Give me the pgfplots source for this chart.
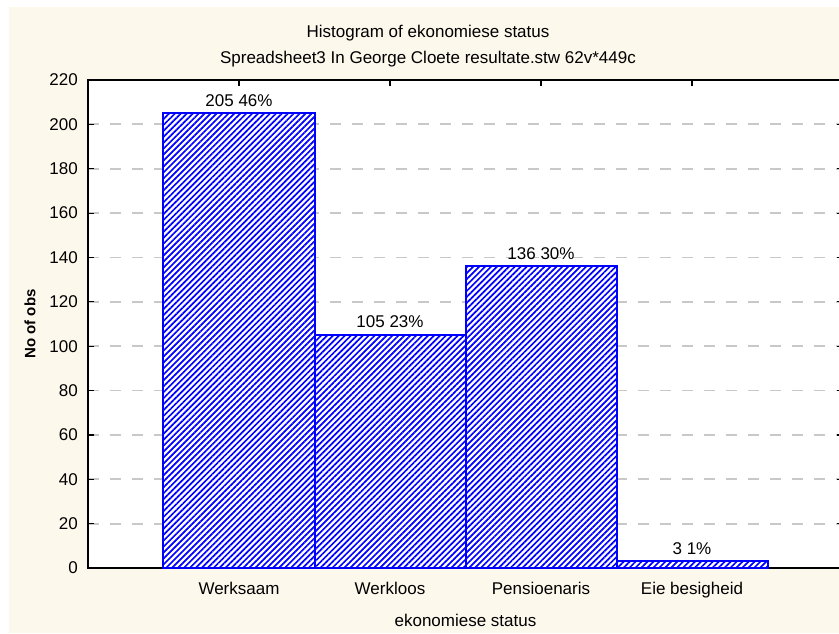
\documentclass[border=0pt]{standalone}
\usepackage{fontspec}
\setmainfont{Liberation Sans}
\usepackage{pgfplots}
\pgfplotsset{compat=1.18}
\usetikzlibrary{patterns.meta}

\definecolor{cream}{RGB}{253,248,236}
\definecolor{gridgray}{RGB}{200,200,200}
\definecolor{barblue}{RGB}{0,0,255}

\begin{document}
\fontsize{17}{20}\selectfont
\begin{tikzpicture}
% page background
\fill[white] (0pt,0pt) rectangle (839pt,-633pt);
\fill[cream] (9pt,-7pt) rectangle (839pt,-633pt);

% titles
\node[anchor=base] at (428pt,-37pt) {Histogram of ekonomiese status};
\node[anchor=base] at (428pt,-63pt) {Spreadsheet3 In George Cloete resultate.stw 62v*449c};

\begin{axis}[
    at={(88pt,-568pt)}, anchor=south west,
    width=755pt, height=488pt, scale only axis,
    xmin=-1, xmax=4, ymin=0, ymax=220,
    ybar, bar width=1, bar shift=0pt,
    xtick={0,1,2,3},
    xticklabels={Werksaam,Werkloos,Pensioenaris,Eie besigheid},
    ytick={0,20,...,220},
    tick align=inside, major tick length=6pt,
    tick style={black, line width=1.2pt},
    axis line style={black, line width=1.6pt},
    axis background/.style={fill=white},
    ymajorgrids,
    grid style={gridgray, line width=1.8pt, dash pattern=on 11pt off 11pt},
    /pgf/number format/assume math mode=true,
    tick label style={font=\fontsize{17}{20}\selectfont},
    xticklabel style={anchor=base, yshift=-26pt},
    yticklabel style={anchor=east, inner sep=0pt, xshift=-10pt},
    xlabel={ekonomiese status},
    ylabel={No of obs},
    every axis x label/.style={at={(axis description cs:0.5,0)}, anchor=base, yshift=-58pt},
    every axis y label/.style={at={(axis description cs:0,0.5)}, rotate=90, anchor=center, yshift=58pt, font=\fontsize{15}{18}\selectfont\bfseries},
    nodes near coords,
    point meta=explicit symbolic,
    every node near coord/.append style={font=\fontsize{17}{20}\selectfont, black, inner sep=0pt, anchor=south, yshift=6pt},
]
\addplot[draw=barblue, line width=2pt, fill=white,
    postaction={pattern={Lines[angle=45, distance=4.2pt, line width=1.7pt]}, pattern color=barblue}]
coordinates {
    (0,205) [205 46\%]
    (1,105) [105 23\%]
    (2,136) [136 30\%]
    (3,3)   [3 1\%]
};
\end{axis}

\pgfresetboundingbox
\path[use as bounding box] (0pt,0pt) rectangle (839pt,-633pt);
\end{tikzpicture}
\end{document}
